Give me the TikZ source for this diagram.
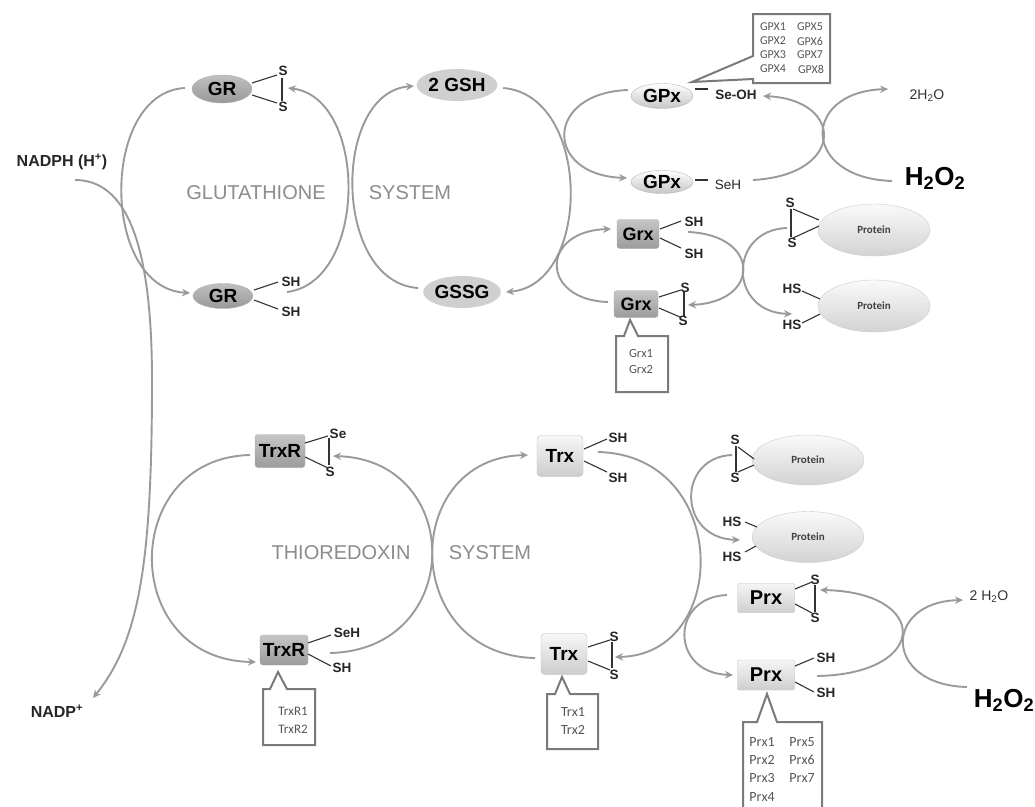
\documentclass[tikz,border=0pt]{standalone}
\usepackage{fontspec}
\setmainfont{Liberation Sans}
\newfontfamily\calfont{Carlito}
\usetikzlibrary{arrows.meta,shapes.geometric}
\newcommand\myfs[1]{\fontsize{#1}{#1}\selectfont}
\definecolor{arr}{HTML}{9A9A9A}
\definecolor{sysg}{HTML}{8C8C8C}
\definecolor{bond}{HTML}{333333}
\definecolor{boxc}{HTML}{7A7A7A}
\definecolor{boxt}{HTML}{555555}
\tikzset{
  cyc/.style={draw=arr, line width=1.9pt, -{Stealth[length=8pt,width=7.5pt]}},
  bondl/.style={draw=bond, line width=1.1pt},
  lab/.style={inner sep=0pt, font=\myfs{13.5}\bfseries, text=black!85},
  darkell/.style={ellipse, inner sep=0pt, top color=gray!50, middle color=gray!35, bottom color=gray!80, draw=gray!60, font=\myfs{19}\bfseries},
  lightell/.style={ellipse, inner sep=0pt, top color=white, bottom color=gray!45, draw=gray!55, font=\myfs{19}\bfseries},
  flatell/.style={ellipse, inner sep=0pt, fill=gray!38, font=\myfs{19}\bfseries},
  darkbox/.style={rectangle, rounded corners=3pt, inner sep=0pt, top color=gray!45, bottom color=gray!78, draw=gray!65, font=\myfs{18}\bfseries},
  lightbox/.style={rectangle, rounded corners=4pt, inner sep=0pt, top color=gray!6, bottom color=gray!40, draw=gray!50, font=\myfs{19}\bfseries},
  protein/.style={ellipse, inner sep=0pt, minimum width=112pt, minimum height=52pt, top color=gray!4, bottom color=gray!35, draw=gray!40, font=\calfont\myfs{11}\bfseries, text=black!75},
  callout/.style={draw=boxc, line width=2pt, fill=white, line join=miter},
  ctext/.style={inner sep=0pt, font=\calfont\myfs{12}, text=boxt},
  systxt/.style={inner sep=0pt, font=\myfs{20}, text=sysg},
  big/.style={inner sep=0pt, font=\myfs{16}\bfseries, text=black!85},
}
\begin{document}
\begin{tikzpicture}[x=1pt,y=-1pt]
\useasboundingbox[fill=white] (0,0) rectangle (1035,806);

% ---------------- labels NADPH
\node[big] (nadph) at (62,162) {NADPH (H\textsuperscript{+})};
\node[big] (nadp) at (57,711) {NADP\textsuperscript{+}};
\draw[cyc] (75,180) .. controls (125,180) and (152,240) .. (152,380) .. controls (152,560) and (140,640) .. (93,698);

% ---------------- glutathione system
\node[darkell, minimum width=60pt, minimum height=28pt] (GRt) at (222,89) {GR};
\node[darkell, minimum width=60pt, minimum height=25pt] (GRb) at (223,296) {GR};
\node[flatell, minimum width=80pt, minimum height=32pt] (GSH) at (457,85) {2 GSH};
\node[flatell, minimum width=72pt, minimum height=32pt] (GSSG) at (462,292) {GSSG};
\node[systxt] (glu) at (256,193) {GLUTATHIONE};
\node[systxt] (sys1) at (410,193) {SYSTEM};

\node[lab] (grs1) at (283,71) {S};
\node[lab] (grs2) at (283,107) {S};
\draw[bondl] (252,83) -- (277,75);
\draw[bondl] (252,95) -- (277,103);
\draw[bondl] (282,78) -- (282,101);
\node[lab] (grsh1) at (291,282) {SH};
\node[lab] (grsh2) at (291,312) {SH};
\draw[bondl] (254,290) -- (278,282);
\draw[bondl] (254,300) -- (278,309);

\draw[cyc] (185,88) .. controls (100,92) and (100,288) .. (190,293);
\draw[cyc] (287,292) .. controls (368,282) and (368,98) .. (288,88);
\draw[cyc] (418,288) .. controls (332,282) and (332,92) .. (414,86);
\draw[cyc] (503,88) .. controls (592,95) and (592,285) .. (506,292);

% ---------------- GPx
\node[lightell, minimum width=62pt, minimum height=25pt] (GPxt) at (662,96) {GPx};
\node[lightell, minimum width=62pt, minimum height=23pt] (GPxb) at (662,182) {GPx};
\draw[bondl] (695,89) -- (708,89);
\node[lab] (seoh) at (736,95) {Se-OH};
\draw[bondl] (695,180) -- (708,180);
\node[lab, font=\myfs{13.5}] (seh) at (728,185) {SeH};
\draw[cyc] (628,90) .. controls (544,93) and (544,175) .. (627,178);
\draw[cyc] (753,180) .. controls (845,175) and (845,100) .. (763,96);
\draw[cyc] (892,181) .. controls (801,178) and (801,92) .. (888,89);
\node[inner sep=0pt, font=\myfs{14}, text=black!80] (h2o1) at (927,96) {2H\textsubscript{2}O};
\node[inner sep=0pt, font=\myfs{26}\bfseries] (h2o2a) at (935,178) {H\textsubscript{2}O\textsubscript{2}};

\draw[callout] (753,14) -- (830,14) -- (830,83) -- (753,83) -- (753,79) -- (692,82) -- (753,56) -- cycle;
\node[ctext] (g1) at (773,27) {GPX1};
\node[ctext] (g2) at (773,41) {GPX2};
\node[ctext] (g3) at (773,55) {GPX3};
\node[ctext] (g4) at (773,69) {GPX4};
\node[ctext] (g5) at (810,27) {GPX5};
\node[ctext] (g6) at (810,41) {GPX6};
\node[ctext] (g7) at (810,55) {GPX7};
\node[ctext] (g8) at (811,69) {GPX8};

% ---------------- Grx
\node[darkbox, minimum width=42pt, minimum height=29pt] (Grxt) at (638,234) {Grx};
\node[darkbox, minimum width=44pt, minimum height=27pt] (Grxb) at (636,304) {Grx};
\node[lab] (gxsh1) at (694,222) {SH};
\node[lab] (gxsh2) at (694,254) {SH};
\draw[bondl] (660,229) -- (681,221);
\draw[bondl] (660,238) -- (681,248);
\node[lab] (gxs1) at (685,288) {S};
\node[lab] (gxs2) at (683,321) {S};
\draw[bondl] (659,297) -- (681,290);
\draw[bondl] (659,308) -- (680,317);
\draw[bondl] (684,292) -- (684,316);
\draw[cyc] (608,302) .. controls (540,300) and (540,231) .. (611,229);
\draw[cyc] (688,232) .. controls (761,235) and (761,302) .. (688,305);

\node[protein] (P1) at (874,230) {Protein};
\node[protein] (P2) at (874,306) {Protein};
\node[lab] (p1s1) at (790,203) {S};
\node[lab] (p1s2) at (792,243) {S};
\draw[bondl] (791,209) -- (791,237);
\draw[bondl] (793,209) -- (819,220);
\draw[bondl] (793,238) -- (819,226);
\node[lab] (p2h1) at (792,289) {HS};
\node[lab] (p2h2) at (792,325) {HS};
\draw[bondl] (802,291) -- (820,299);
\draw[bondl] (802,323) -- (820,314);
\draw[cyc] (787,228) .. controls (728,230) and (728,312) .. (792,314);

\draw[callout] (616,392) -- (616,336) -- (624,336) -- (630,320) -- (638,336) -- (668,336) -- (668,392) -- cycle;
\node[ctext, font=\calfont\myfs{12.5}] (gx1) at (641,353) {Grx1};
\node[ctext, font=\calfont\myfs{12.5}] (gx2) at (641,369) {Grx2};

% ---------------- thioredoxin system
\node[darkbox, minimum width=50pt, minimum height=33pt, font=\myfs{19}\bfseries] (TRt) at (280,451) {TrxR};
\node[darkbox, minimum width=48pt, minimum height=30pt, font=\myfs{19}\bfseries] (TRb) at (284,650) {TrxR};
\node[systxt] (thio) at (341,553) {THIOREDOXIN};
\node[systxt] (sys2) at (490,553) {SYSTEM};
\node[lab] (trse) at (338,434) {Se};
\node[lab] (trs) at (330,472) {S};
\draw[bondl] (305,443) -- (328,436);
\draw[bondl] (305,457) -- (328,468);
\draw[bondl] (329,438) -- (329,465);
\node[lab] (trseh) at (347,633) {SeH};
\node[lab] (trsh) at (342,668) {SH};
\draw[bondl] (308,643) -- (331,635);
\draw[bondl] (308,654) -- (331,666);
\draw[cyc] (250,455) .. controls (119,458) and (119,660) .. (256,662);
\draw[cyc] (330,653) .. controls (465,650) and (465,460) .. (333,456);

\node[lightbox, minimum width=46pt, minimum height=41pt] (Trxt) at (560,456) {Trx};
\node[lightbox, minimum width=46pt, minimum height=41pt] (Trxb) at (564,654) {Trx};
\node[lab] (txsh1) at (618,438) {SH};
\node[lab] (txsh2) at (618,478) {SH};
\draw[bondl] (584,449) -- (607,439);
\draw[bondl] (584,461) -- (607,472);
\node[lab] (txs1) at (614,637) {S};
\node[lab] (txs2) at (614,675) {S};
\draw[bondl] (588,647) -- (610,640);
\draw[bondl] (588,661) -- (610,670);
\draw[bondl] (612,642) -- (612,668);
\draw[cyc] (535,658) .. controls (400,655) and (400,458) .. (528,455);
\draw[cyc] (598,452) .. controls (731,455) and (731,655) .. (615,657);

\node[protein, minimum height=50pt] (P3) at (808,460) {Protein};
\node[protein, minimum height=51pt] (P4) at (808,537) {Protein};
\node[lab] (p3s1) at (735,440) {S};
\node[lab] (p3s2) at (735,478) {S};
\draw[bondl] (736,446) -- (736,472);
\draw[bondl] (738,447) -- (754,459);
\draw[bondl] (738,472) -- (754,465);
\node[lab] (p4h1) at (732,522) {HS};
\node[lab] (p4h2) at (732,557) {HS};
\draw[bondl] (745,522) -- (757,527);
\draw[bondl] (745,552) -- (756,546);
\draw[cyc] (732,455) .. controls (677,457) and (677,538) .. (740,540);

% ---------------- Prx
\node[lightbox, rounded corners=2pt, top color=gray!8, bottom color=gray!38, minimum width=57pt, minimum height=29pt, font=\myfs{20}\bfseries] (Prxt) at (766,598) {Prx};
\node[lightbox, rounded corners=2pt, top color=gray!8, bottom color=gray!38, minimum width=57pt, minimum height=30pt, font=\myfs{20}\bfseries] (Prxb) at (766,675) {Prx};
\node[lab] (pxs1) at (815,580) {S};
\node[lab] (pxs2) at (815,618) {S};
\draw[bondl] (795,589) -- (812,582);
\draw[bondl] (795,604) -- (812,613);
\draw[bondl] (815,585) -- (815,612);
\node[lab] (pxsh1) at (826,658) {SH};
\node[lab] (pxsh2) at (826,693) {SH};
\draw[bondl] (795,666) -- (814,658);
\draw[bondl] (795,682) -- (814,692);
\draw[cyc] (727,595) .. controls (670,597) and (670,673) .. (733,675);
\draw[cyc] (817,676) .. controls (930,674) and (930,592) .. (820,590);
\draw[cyc] (967,687) .. controls (883,685) and (883,602) .. (963,600);
\node[inner sep=0pt, font=\myfs{14}, text=black!80] (h2o3) at (989,597) {2 H\textsubscript{2}O};
\node[inner sep=0pt, font=\myfs{26}\bfseries] (h2o2b) at (1004,700) {H\textsubscript{2}O\textsubscript{2}};

% ---------------- callouts thioredoxin
\draw[callout] (263,745) -- (263,689) -- (270,689) -- (278,672) -- (287,689) -- (315,689) -- (315,745) -- cycle;
\node[ctext, font=\calfont\myfs{13}] (tr1) at (293,711) {TrxR1};
\node[ctext, font=\calfont\myfs{13}] (tr2) at (293,729) {TrxR2};
\draw[callout] (547,749) -- (547,694) -- (555,694) -- (562,677) -- (570,694) -- (598,694) -- (598,749) -- cycle;
\node[ctext, font=\calfont\myfs{14}] (tx1) at (573,712) {Trx1};
\node[ctext, font=\calfont\myfs{14}] (tx2) at (573,730) {Trx2};
\draw[callout] (743,810) -- (743,722) -- (757,722) -- (767,694) -- (777,722) -- (822,722) -- (822,810) -- cycle;
\node[ctext, font=\calfont\myfs{14}] (px1) at (762,742) {Prx1};
\node[ctext, font=\calfont\myfs{14}] (px2) at (762,760) {Prx2};
\node[ctext, font=\calfont\myfs{14}] (px3) at (762,778) {Prx3};
\node[ctext, font=\calfont\myfs{14}] (px4) at (762,797) {Prx4};
\node[ctext, font=\calfont\myfs{14}] (px5) at (802,742) {Prx5};
\node[ctext, font=\calfont\myfs{14}] (px6) at (802,760) {Prx6};
\node[ctext, font=\calfont\myfs{14}] (px7) at (802,778) {Prx7};
\end{tikzpicture}
\end{document}
